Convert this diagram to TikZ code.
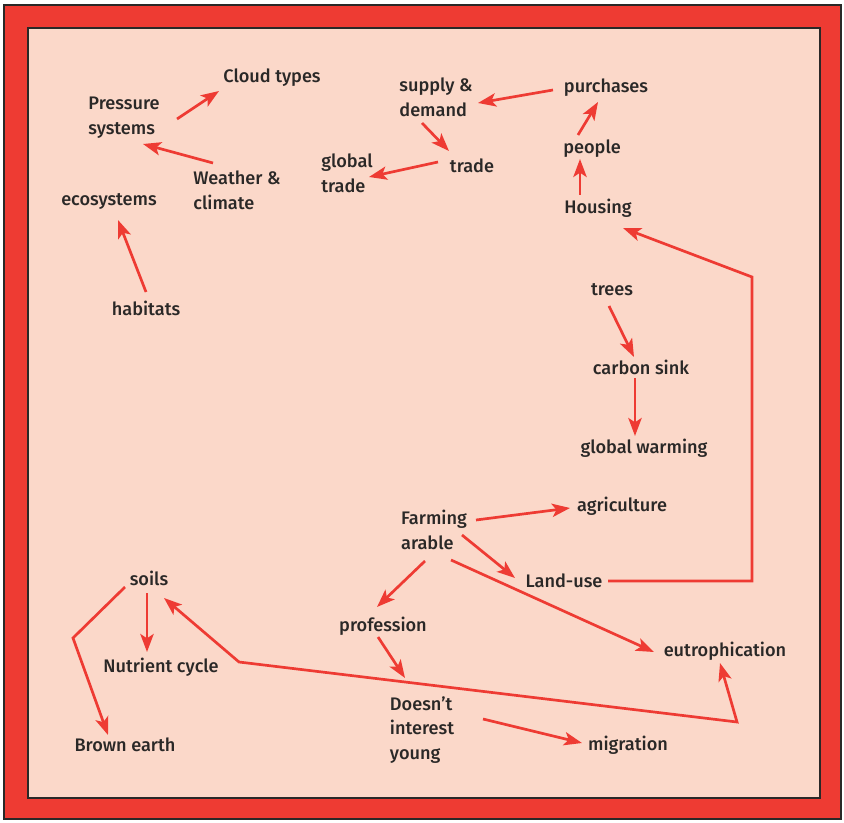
\documentclass[tikz,border=0pt]{standalone}
\usepackage{fontspec}
\setmainfont{Fira Sans}[UprightFont={* Medium}]
\usepackage{tikz}
\usetikzlibrary{arrows.meta,calc}
\definecolor{mapred}{HTML}{EE3B33}
\definecolor{mappink}{HTML}{FBD8C9}
\definecolor{mapink}{HTML}{2A2827}

\begin{document}
\begin{tikzpicture}[x=0.03cm,y=-0.03cm,
  lbl/.style={font=\fontsize{15.5}{21}\selectfont,text=mapink,align=left,inner sep=2pt},
  arr/.style={-{Stealth[length=5.4mm,width=4mm,inset=1.3mm]},line width=2.3pt,mapred},
  twoway/.style={{Stealth[length=5.4mm,width=4mm,inset=1.3mm]}-{Stealth[length=5.4mm,width=4mm,inset=1.3mm]},line width=2.3pt,mapred}]
  \useasboundingbox (0,0) rectangle (844,823);
  \fill[mapred,draw=mapink,line width=1.5pt] (4,5) rectangle (841,819);
  \fill[mappink,draw=mapink,line width=0.9pt] (28,28) rectangle (820,798);

  \node[lbl] (cloud) at (272,78) {Cloud types};
  \node[lbl] (press) at (124,118) {Pressure\\systems};
  \node[lbl] (weather) at (237,190) {Weather \&\\climate};
  \node[lbl] (eco) at (109,201) {ecosystems};
  \node[lbl] (habit) at (146,308) {habitats};
  \node[lbl] (supply) at (436,97) {supply \&\\demand};
  \node[lbl] (purch) at (606,88) {purchases};
  \node[lbl] (people) at (592,149) {people};
  \node[lbl] (housing) at (598,208) {Housing};
  \node[lbl] (gtrade) at (347,173) {global\\trade};
  \node[lbl] (trade) at (472,166) {trade};
  \node[lbl] (trees) at (612,290) {trees};
  \node[lbl] (carbon) at (641,367) {carbon sink};
  \node[lbl] (gwarm) at (644,448) {global warming};
  \node[lbl] (farm) at (434,530) {Farming\\arable};
  \node[lbl] (agri) at (622,506) {agriculture};
  \node[lbl] (land) at (564,581) {Land-use};
  \node[lbl] (soils) at (149,578) {soils};
  \node[lbl] (prof) at (383,626) {profession};
  \node[lbl] (eutro) at (725,651) {eutrophication};
  \node[lbl] (nutri) at (161,667) {Nutrient cycle};
  \node[lbl] (doesnt) at (422,730) {Doesn't\\interest\\young};
  \node[lbl] (migr) at (628,745) {migration};
  \node[lbl] (brown) at (125,745) {Brown earth};

  \coordinate (lbend) at (752,277);
  \coordinate (ebend) at (737,722);
  \coordinate (sbend) at (239,662);
  \coordinate (bbend) at (73,638);

  \draw[arr] ($(press)+(53,1)$) -- ($(cloud)+(-53,13)$);
  \draw[arr] ($(weather)+(-24,-27)$) -- ($(press)+(19,26)$);
  \draw[arr] ($(habit)+(0,-16)$) -- ($(eco)+(9,19)$);
  \draw[arr] ($(purch)+(-53,2)$) -- ($(supply)+(42,6)$);
  \draw[arr] ($(supply)+(-14,26)$) -- ($(trade)+(-23,-15)$);
  \draw[arr] ($(trade)+(-34,-4)$) -- ($(gtrade)+(22,4)$);
  \draw[arr] ($(people)+(-14,-14)$) -- ($(purch)+(-8,14)$);
  \draw[arr] ($(housing)+(-18,-13)$) -- ($(people)+(-12,10)$);
  \draw[arr] ($(land)+(44,0)$) -| (lbend) -- ($(housing)+(25,20)$);
  \draw[arr] ($(trees)+(-3,16)$) -- ($(carbon)+(-7,-10)$);
  \draw[arr] ($(carbon)+(-6,11)$) -- ($(gwarm)+(-9,-12)$);
  \draw[arr] ($(farm)+(42,-10)$) -- ($(agri)+(-52,2)$);
  \draw[arr] ($(farm)+(28,5)$) -- ($(land)+(-49,-3)$);
  \draw[arr] ($(farm)+(17,30)$) -- ($(eutro)+(-71,1)$);
  \draw[arr] ($(farm)+(-9,31)$) -- ($(prof)+(-6,-19)$);
  \draw[arr] ($(prof)+(-5,11)$) -- ($(doesnt)+(-17,-52)$);
  \draw[arr] ($(doesnt)+(61,-11)$) -- ($(migr)+(-46,-2)$);
  \draw[twoway] ($(soils)+(15,20)$) -- (sbend) -- (ebend) -- ($(eutro)+(-5,12)$);
  \draw[arr] ($(soils)+(-24,9)$) -- (bbend) -- ($(brown)+(-17,-10)$);
  \draw[arr] ($(soils)+(-2,15)$) -- ($(nutri)+(-14,-15)$);
\end{tikzpicture}
\end{document}
